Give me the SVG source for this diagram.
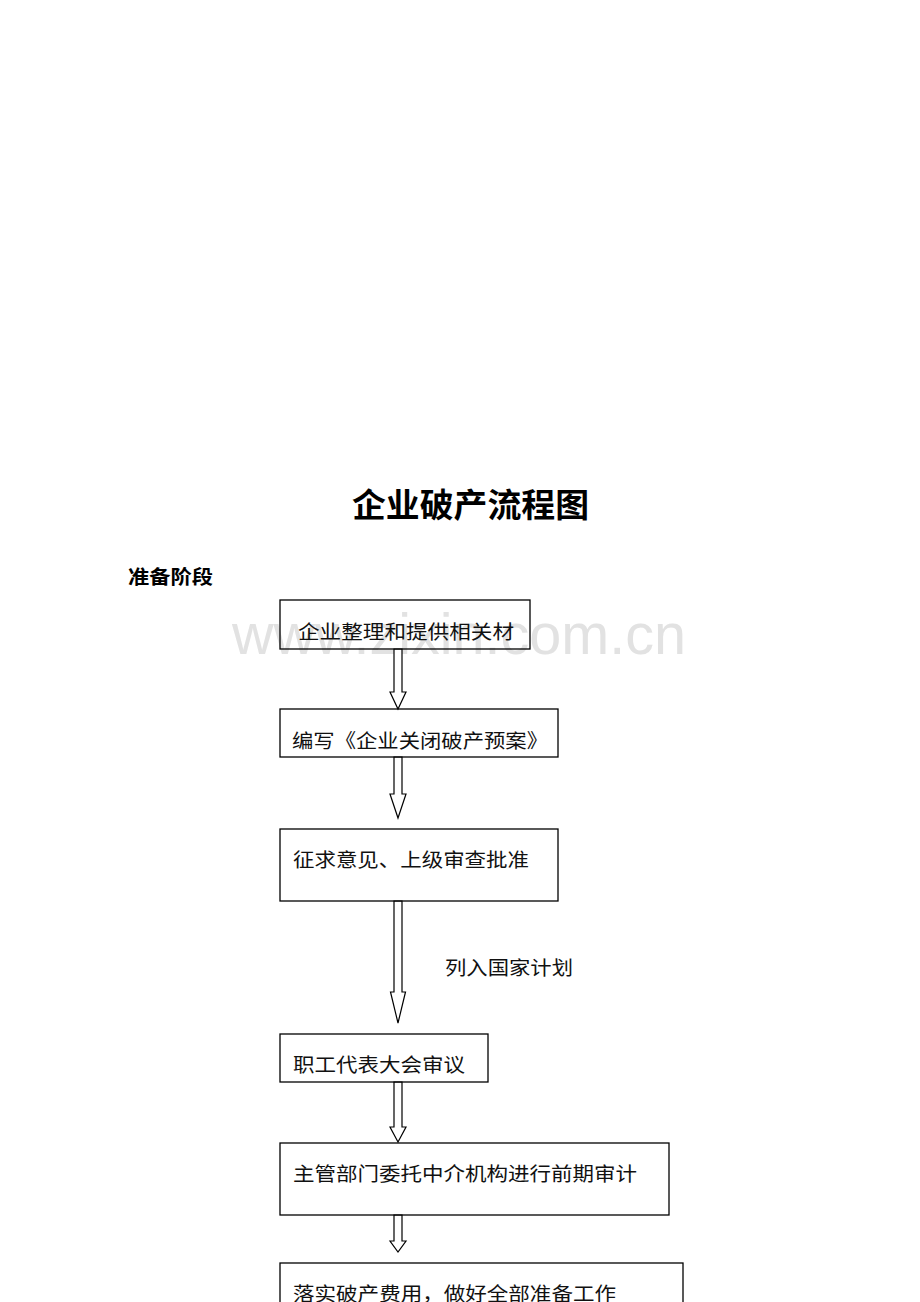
<svg xmlns="http://www.w3.org/2000/svg" width="920" height="1302" viewBox="0 0 920 1302">
<style>
.bg{fill:#ffffff}
.box{fill:none;stroke:#000;stroke-width:1.3}
.arr{fill:#fff;stroke:#000;stroke-width:1.2;stroke-linejoin:miter}
.t{font-family:"Noto Sans CJK SC","Noto Sans CJK JP",sans-serif;font-size:19.5px;fill:#111}
.wm{font-family:"Liberation Sans",Arial,sans-serif;font-size:57px;fill:#e2e2e2}
.title{font-family:"Noto Sans CJK SC",sans-serif;font-size:33px;font-weight:bold;fill:#000}
.h{font-family:"Noto Sans CJK SC",sans-serif;font-size:19.5px;font-weight:bold;fill:#000}
</style>
<rect class="bg" x="0" y="0" width="920" height="1302"/>
<text class="wm" x="232" y="654" textLength="454" lengthAdjust="spacingAndGlyphs">www.zixin.com.cn</text>
<text class="title" x="352" y="517" textLength="237" lengthAdjust="spacingAndGlyphs">企业破产流程图</text>
<text class="h" x="128" y="584" textLength="85" lengthAdjust="spacingAndGlyphs">准备阶段</text>
<g id="connectors">
<path class="arr" d="M394 649 V692 H390 L398 709 L406 692 H402 V649 Z"/>
<path class="arr" d="M394 757 V794 H390 L398 818 L406 794 H402 V757 Z"/>
<path class="arr" d="M394 901 V992 H390.5 L398 1023 L405.5 992 H402 V901 Z"/>
<text class="t" x="445" y="975" textLength="128" lengthAdjust="spacingAndGlyphs">列入国家计划</text>
<path class="arr" d="M394 1082 V1127 H390 L398 1142 L406 1127 H402 V1082 Z"/>
<path class="arr" d="M394 1215 V1241 H390 L398 1252 L406 1241 H402 V1215 Z"/>
</g>
<g id="n1"><rect class="box" x="280" y="600" width="250" height="49"/><text class="t" x="298" y="639" textLength="216" lengthAdjust="spacingAndGlyphs">企业整理和提供相关材</text></g>
<g id="n2"><rect class="box" x="280" y="709" width="278" height="48"/><text class="t" x="292" y="748" textLength="256" lengthAdjust="spacingAndGlyphs">编写《企业关闭破产预案》</text></g>
<g id="n3"><rect class="box" x="280" y="829" width="278" height="72"/><text class="t" x="293" y="867" textLength="236" lengthAdjust="spacingAndGlyphs">征求意见、上级审查批准</text></g>
<g id="n4"><rect class="box" x="280" y="1034" width="208" height="48"/><text class="t" x="293" y="1072" textLength="172" lengthAdjust="spacingAndGlyphs">职工代表大会审议</text></g>
<g id="n5"><rect class="box" x="280" y="1143" width="389" height="72"/><text class="t" x="293" y="1181" textLength="344" lengthAdjust="spacingAndGlyphs">主管部门委托中介机构进行前期审计</text></g>
<g id="n6"><rect class="box" x="280" y="1263" width="403" height="60"/><text class="t" x="293" y="1301" textLength="323" lengthAdjust="spacingAndGlyphs">落实破产费用，做好全部准备工作</text></g>
</svg>
